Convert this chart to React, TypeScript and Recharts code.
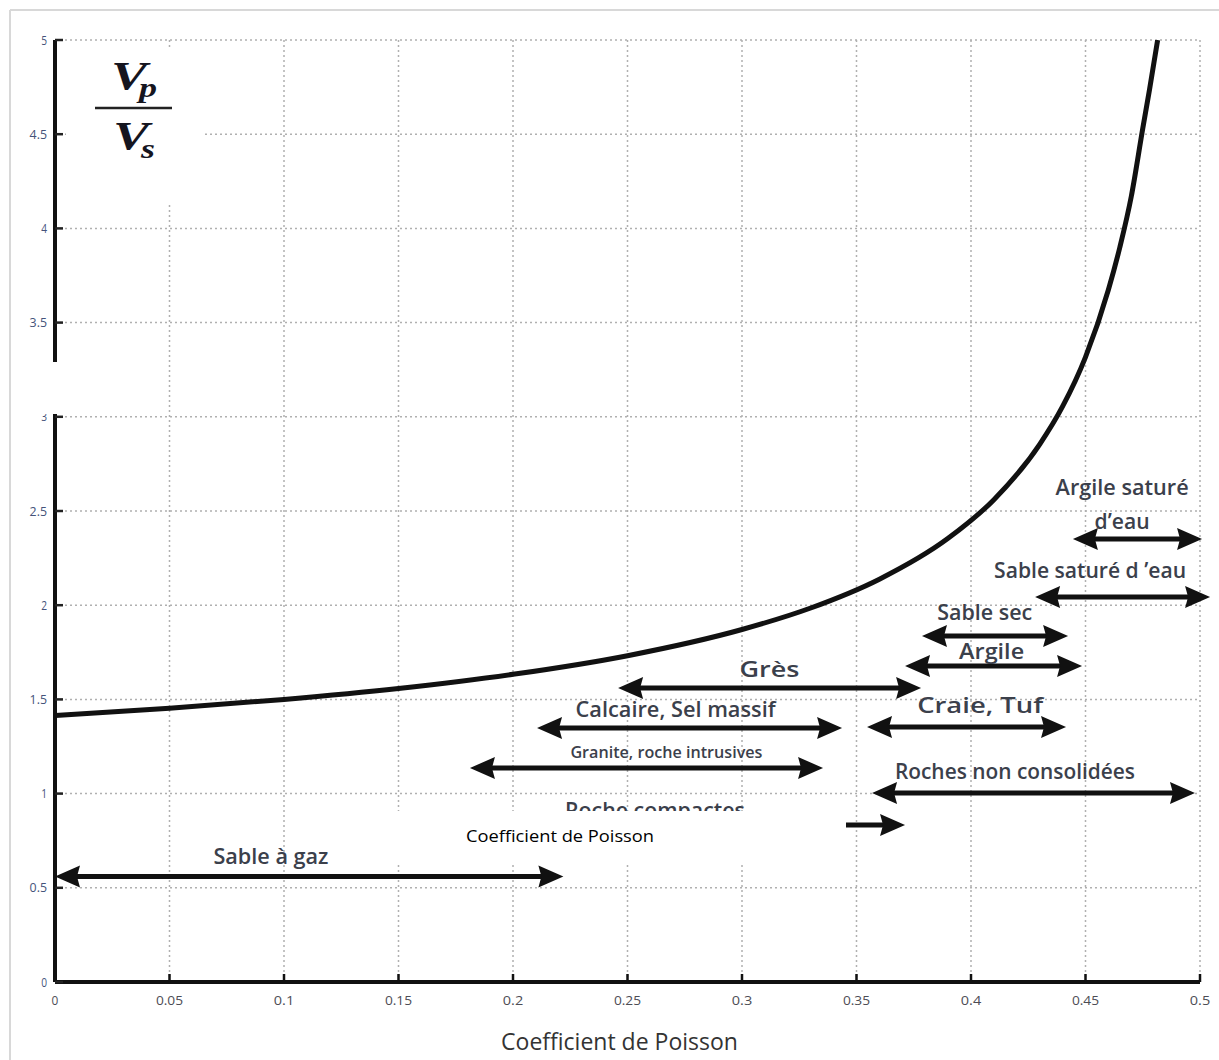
import React from 'react';
import { ComposedChart, Line, XAxis, YAxis, CartesianGrid, ReferenceLine, ReferenceDot } from 'recharts';

// Curve: Poisson ratio vs Vp/Vs
const poissonRatio = [0, 0.05, 0.1, 0.15, 0.2, 0.25, 0.3, 0.33, 0.36, 0.39, 0.41, 0.43, 0.44, 0.45, 0.46, 0.465, 0.47, 0.475, 0.478, 0.4815];
const vpOverVs = [1.414, 1.453, 1.5, 1.558, 1.633, 1.732, 1.871, 1.985, 2.138, 2.355, 2.56, 2.854, 3.055, 3.317, 3.674, 3.9, 4.17, 4.53, 4.74, 5.0];

// Rock ranges (double arrows)
const rockTypes = [
  'Sable à gaz',
  'Roche compactes',
  'Granite, roche intrusives',
  'Calcaire, Sel massif',
  'Grès',
  'Craie,  Tuf',
  'Argile',
  'Sable sec',
  'Sable saturé d ’eau',
  'Argile saturé\nd’eau',
  'Roches non consolidées',
];
const rangeFrom = [0.0, 0.2, 0.1812, 0.2105, 0.2459, 0.3546, 0.3712, 0.3786, 0.428, 0.4445, 0.3568];
const rangeTo = [0.222, 0.3712, 0.3354, 0.3437, 0.3782, 0.4415, 0.4485, 0.4424, 0.5044, 0.5009, 0.4978];
const rangeLevel = [0.56, 0.833, 1.136, 1.348, 1.561, 1.354, 1.677, 1.837, 2.044, 2.351, 1.003];
const labelAtX = [0.0943, 0.262, 0.267, 0.271, 0.312, 0.404, 0.409, 0.406, 0.452, 0.466, 0.4192];
const labelAtY = [0.669, 0.913, 1.221, 1.449, 1.661, 1.47, 1.752, 1.964, 2.187, 2.534, 1.115];

// Ticks
const xTickValues = [0, 0.05, 0.1, 0.15, 0.2, 0.25, 0.3, 0.35, 0.4, 0.45, 0.5];
const xTickLabels = ['0', '0.05', '0.1', '0.15', '0.2', '0.25', '0.3', '0.35', '0.4', '0.45', '0.5'];
const yTickValues = [0, 0.5, 1, 1.5, 2, 2.5, 3, 3.5, 4, 4.5, 5];
const yTickLabels = ['0', '0.5', '1', '1.5', '2', '2.5', '3', '3.5', '4', '4.5', '5'];

const curveData = poissonRatio.map((nu, i) => ({ nu, ratio: vpOverVs[i] }));

// presentation of labels (font size, rendered width per line)
const labelStyle: Record<number, { size: number; widths: number[] }> = {
  0: { size: 21, widths: [115] },
  1: { size: 21, widths: [180] },
  2: { size: 17, widths: [192] },
  3: { size: 21, widths: [200] },
  4: { size: 22, widths: [60] },
  5: { size: 22, widths: [126] },
  6: { size: 21, widths: [65] },
  7: { size: 21, widths: [95] },
  8: { size: 21, widths: [192] },
  9: { size: 21, widths: [133, 55] },
  10: { size: 21, widths: [240] },
};

const LABEL_FONT = "'Open Sans', 'Noto Sans', sans-serif";
const TICK_FONT = "'Open Sans', 'Liberation Sans', sans-serif";

const fmtX = (v: number) => {
  const i = xTickValues.findIndex((t) => Math.abs(t - v) < 1e-9);
  return i >= 0 ? xTickLabels[i] : String(v);
};
const fmtY = (v: number) => {
  const i = yTickValues.findIndex((t) => Math.abs(t - v) < 1e-9);
  return i >= 0 ? yTickLabels[i] : String(v);
};

const BottomTick = (p: any) => (
  <g>
    <line x1={p.x} y1={p.y} x2={p.x} y2={p.y - 8} stroke="#111" strokeWidth={2.5} />
    <text
      x={p.x}
      y={p.y + 23}
      textAnchor="middle"
      fontSize={13}
      fill="#4d4d55"
      fontFamily={TICK_FONT}
      textLength={fmtX(p.payload.value).length * 6.8}
      lengthAdjust="spacingAndGlyphs"
    >
      {fmtX(p.payload.value)}
    </text>
  </g>
);
const TopTick = (p: any) => (
  <line x1={p.x} y1={p.y} x2={p.x} y2={p.y + 7} stroke="#222" strokeWidth={2.5} />
);
const LeftTick = (p: any) => (
  <g>
    <line x1={p.x} y1={p.y} x2={p.x + 8} y2={p.y} stroke="#222" strokeWidth={2.5} />
    <text
      x={p.x - 8}
      y={p.y + 4.5}
      textAnchor="end"
      fontSize={13}
      fill="#45537a"
      fontFamily={TICK_FONT}
      textLength={fmtY(p.payload.value).length * 5.8}
      lengthAdjust="spacingAndGlyphs"
    >
      {fmtY(p.payload.value)}
    </text>
  </g>
);
const RightTick = (p: any) => (
  <line x1={p.x} y1={p.y} x2={p.x - 7} y2={p.y} stroke="#333" strokeWidth={2.5} />
);

const ArrowShape = (p: any) => {
  const { x1, y1, x2, y2 } = p;
  const L = 25;
  const H = 11;
  const N = 3;
  return (
    <g>
      <line x1={x1 + L - 4} y1={y1} x2={x2 - L + 4} y2={y2} stroke="#111" strokeWidth={5} />
      <polygon points={`${x1},${y1} ${x1 + L},${y1 - H} ${x1 + L - N},${y1} ${x1 + L},${y1 + H}`} fill="#111" />
      <polygon points={`${x2},${y2} ${x2 - L},${y2 - H} ${x2 - L + N},${y2} ${x2 - L},${y2 + H}`} fill="#111" />
    </g>
  );
};

const makeLabel = (idx: number) => (p: any) => {
  const lines = rockTypes[idx].split('\n');
  const st = labelStyle[idx];
  const lineH = 34;
  const startY = p.cy - ((lines.length - 1) * lineH) / 2;
  return (
    <g>
      {lines.map((ln, k) => (
        <text
          key={k}
          x={p.cx}
          y={startY + k * lineH}
          dy="0.36em"
          textAnchor="middle"
          fontSize={st.size}
          fontWeight={600}
          fill="#3b404b"
          fontFamily={LABEL_FONT}
          textLength={st.widths[k]}
          lengthAdjust="spacingAndGlyphs"
        >
          {ln}
        </text>
      ))}
    </g>
  );
};

export default function App() {
  return (
    <div style={{ position: 'absolute', left: 0, top: 0, width: 1219, height: 1060, background: '#fff' }}>
      <ComposedChart
        width={1219}
        height={1060}
        data={curveData}
        margin={{ top: 40, right: 19, bottom: 38, left: 10 }}
      >
        <CartesianGrid stroke="#b0b0b0" strokeWidth={1.5} strokeDasharray="2 3" />
        <XAxis
          dataKey="nu"
          type="number"
          domain={[0, 0.5]}
          ticks={xTickValues}
          interval={0}
          height={40}
          tickSize={0}
          tickMargin={0}
          tickLine={false}
          tick={BottomTick}
          axisLine={{ stroke: '#111', strokeWidth: 4 }}
          allowDataOverflow
          label={{
            value: 'Coefficient de Poisson',
            position: 'insideBottom',
            offset: -28,
            dx: -8,
            fontSize: 23,
            fill: '#333',
            fontFamily: "'Open Sans', sans-serif",
          }}
        />
        <XAxis
          xAxisId="top"
          orientation="top"
          type="number"
          domain={[0, 0.5]}
          ticks={xTickValues}
          interval={0}
          height={0}
          tickSize={0}
          tickMargin={0}
          tickLine={false}
          tick={TopTick}
          axisLine={{ stroke: '#2a2a2a', strokeWidth: 3.5 }}
        />
        <YAxis
          type="number"
          domain={[0, 5]}
          ticks={yTickValues}
          interval={0}
          width={45}
          tickSize={0}
          tickMargin={0}
          tickLine={false}
          tick={LeftTick}
          axisLine={{ stroke: '#111', strokeWidth: 4 }}
          allowDataOverflow
        />
        <YAxis
          yAxisId="right"
          orientation="right"
          type="number"
          domain={[0, 5]}
          ticks={yTickValues}
          interval={0}
          width={0}
          tickSize={0}
          tickMargin={0}
          tickLine={false}
          tick={RightTick}
          axisLine={{ stroke: '#333', strokeWidth: 2.5 }}
        />
        {rockTypes.map((name, i) => (
          <ReferenceLine
            key={'a' + i}
            segment={[
              { x: rangeFrom[i], y: rangeLevel[i] },
              { x: rangeTo[i], y: rangeLevel[i] },
            ]}
            ifOverflow="visible"
            shape={ArrowShape}
          />
        ))}
        {rockTypes.map((name, i) => (
          <ReferenceDot
            key={'l' + i}
            x={labelAtX[i]}
            y={labelAtY[i]}
            r={0}
            ifOverflow="visible"
            shape={makeLabel(i)}
          />
        ))}
        <Line
          type="monotone"
          dataKey="ratio"
          stroke="#111"
          strokeWidth={5}
          dot={false}
          activeDot={false}
          isAnimationActive={false}
        />
      </ComposedChart>
      <svg
        width={1219}
        height={1060}
        style={{ position: 'absolute', left: 0, top: 0, pointerEvents: 'none' }}
      >
        {/* outer page frame */}
        <line x1={10} y1={10} x2={1219} y2={10} stroke="#d8d8d8" strokeWidth={2} />
        <line x1={10} y1={10} x2={10} y2={1060} stroke="#d8d8d8" strokeWidth={2} />
        {/* white patch behind Vp/Vs */}
        <rect x={66} y={49} width={139} height={156} fill="#fff" />
        {/* white patch over tick label 3 */}
        <rect x={38} y={362} width={22} height={52} fill="#fff" />
        {/* white patch with stray caption */}
        <rect x={338} y={811} width={508} height={51} fill="#fff" />
        <text
          x={466}
          y={842}
          fontSize={16}
          fill="#000"
          fontFamily="'Open Sans', 'Liberation Sans', sans-serif"
          textLength={188}
          lengthAdjust="spacingAndGlyphs"
        >
          Coefficient de Poisson
        </text>
        {/* Vp / Vs */}
        <text x={111} y={89} fontSize={40} fontWeight="bold" fontStyle="italic" fill="#15151f" fontFamily="'Liberation Serif', serif" textLength={36} lengthAdjust="spacingAndGlyphs">
          V
        </text>
        <text x={139} y={97} fontSize={28} fontWeight="bold" fontStyle="italic" fill="#15151f" fontFamily="'Liberation Serif', serif" textLength={18} lengthAdjust="spacingAndGlyphs">
          p
        </text>
        <line x1={95} y1={108} x2={172} y2={108} stroke="#222" strokeWidth={2.5} />
        <text x={113} y={149} fontSize={40} fontWeight="bold" fontStyle="italic" fill="#15151f" fontFamily="'Liberation Serif', serif" textLength={36} lengthAdjust="spacingAndGlyphs">
          V
        </text>
        <text x={141} y={158} fontSize={28} fontWeight="bold" fontStyle="italic" fill="#15151f" fontFamily="'Liberation Serif', serif" textLength={14} lengthAdjust="spacingAndGlyphs">
          s
        </text>
      </svg>
    </div>
  );
}
